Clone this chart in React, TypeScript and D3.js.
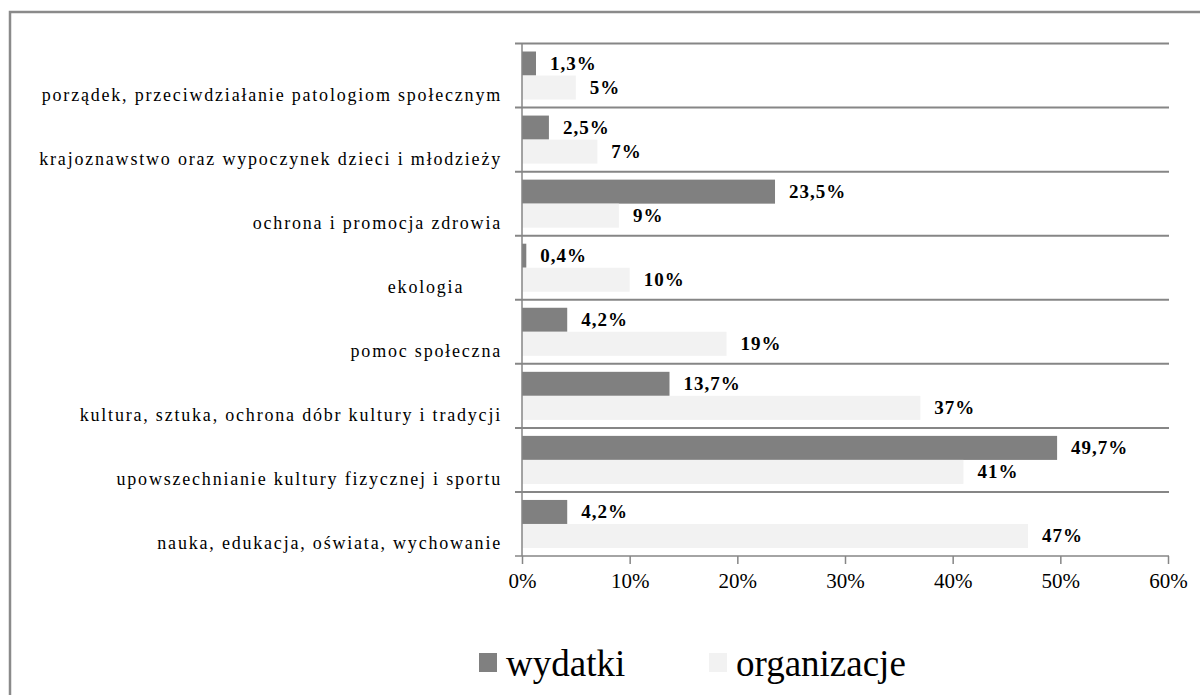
import * as d3 from 'd3';
import React, { useRef, useEffect } from 'react';

// categories, top to bottom
const categories = [
    "porządek, przeciwdziałanie patologiom społecznym",
    "krajoznawstwo oraz wypoczynek dzieci i młodzieży",
    "ochrona i promocja zdrowia",
    "ekologia\u00a0\u00a0\u00a0\u00a0\u00a0\u00a0",
    "pomoc społeczna",
    "kultura, sztuka, ochrona dóbr kultury i tradycji",
    "upowszechnianie kultury fizycznej i sportu",
    "nauka, edukacja, oświata, wychowanie",
];
const wydatki = [1.3, 2.5, 23.5, 0.4, 4.2, 13.7, 49.7, 4.2];
const organizacje = [5, 7, 9, 10, 19, 37, 41, 47];
const seriesNames = ["wydatki", "organizacje"];
const xTicks = [0, 10, 20, 30, 40, 50, 60];

const colors = { wydatki: "#808080", organizacje: "#f2f2f2" };
const FONT = "'Liberation Serif', 'Times New Roman', serif";

function App() {
    const ref = useRef(null);
    const width = 1200, height = 695;

    useEffect(() => {
        draw();
    }, []);

    const draw = () => {
        const svg = d3.select(ref.current);
        svg.selectAll("*").remove();

        var margin = { top: 43.5, right: 31, bottom: 139, left: 522 };

        // outer frame
        svg.append("rect")
            .attr("x", 10).attr("y", 12)
            .attr("width", 1210).attr("height", 720)
            .attr("fill", "white")
            .attr("stroke", "#8a8a8a")
            .attr("stroke-width", 2.5);

        var x = d3.scaleLinear().domain([0, 60]).range([margin.left, width - margin.right - 1]);
        var y = d3.scaleBand().domain(categories).range([margin.top, height - margin.bottom]).padding(0);
        var ySeries = d3.scaleBand().domain(seriesNames).range([0, y.bandwidth()])
            .paddingInner(0).paddingOuter(1 / 3);

        // gridlines between categories
        var bounds = categories.map(c => y(c));
        svg.append("g").selectAll("line")
            .data(bounds)
            .join("line")
            .attr("x1", margin.left - 7).attr("x2", x(60) + 1)
            .attr("y1", d => d).attr("y2", d => d)
            .attr("stroke", "#868686")
            .attr("stroke-width", 2);

        // bars
        var rows = categories.map((c, i) => ({ c, wydatki: wydatki[i], organizacje: organizacje[i] }));
        var fmt1 = v => d3.format(".1f")(v).replace(".", ",") + "%";
        var fmt0 = v => d3.format("d")(v) + "%";

        seriesNames.forEach(s => {
            var g = svg.append("g");
            g.selectAll("rect")
                .data(rows)
                .join("rect")
                .attr("x", x(0))
                .attr("y", d => y(d.c) + ySeries(s))
                .attr("width", d => x(d[s]) - x(0))
                .attr("height", ySeries.bandwidth())
                .attr("fill", colors[s]);

            g.selectAll("text")
                .data(rows)
                .join("text")
                .attr("x", d => x(d[s]) + 14)
                .attr("y", d => y(d.c) + ySeries(s) + ySeries.bandwidth() / 2)
                .attr("dominant-baseline", "central")
                .style("font-family", FONT)
                .style("font-size", "19px")
                .style("font-weight", "bold")
                .style("letter-spacing", "1px")
                .text(d => s === "wydatki" ? fmt1(d[s]) : fmt0(d[s]));
        });

        // vertical axis line
        svg.append("line")
            .attr("x1", x(0)).attr("x2", x(0))
            .attr("y1", margin.top).attr("y2", y.range()[1])
            .attr("stroke", "#868686").attr("stroke-width", 1.5);

        // category labels
        svg.append("g").selectAll("text")
            .data(categories)
            .join("text")
            .attr("x", 502)
            .attr("y", d => y(d) + y.bandwidth() / 2 + 25)
            .attr("text-anchor", "end")
            .style("white-space", "pre")
            .style("font-family", FONT)
            .style("font-size", "18px")
            .style("letter-spacing", "1.8px")
            .text(d => d);

        // x axis
        var xAxis = svg.append("g")
            .attr("transform", "translate(0," + y.range()[1] + ")")
            .call(d3.axisBottom(x).tickValues(xTicks).tickSize(8).tickPadding(9)
                .tickFormat(d => d + "%"));
        xAxis.select(".domain")
            .attr("d", "M" + (margin.left - 7) + ",0H" + (x(60) + 1))
            .attr("stroke", "#868686").attr("stroke-width", 1.5);
        xAxis.selectAll(".tick line").attr("stroke", "#868686").attr("stroke-width", 1.5);
        xAxis.selectAll(".tick text")
            .attr("fill", "black")
            .style("font-family", FONT)
            .style("font-size", "21px");

        // legend
        var legend = svg.append("g").attr("transform", "translate(479,676)");
        var legendX = [0, 230];
        seriesNames.forEach((s, i) => {
            legend.append("rect")
                .attr("x", legendX[i]).attr("y", -23)
                .attr("width", 18).attr("height", 19)
                .attr("fill", colors[s]);
            legend.append("text")
                .attr("x", legendX[i] + 27).attr("y", 0)
                .style("font-family", FONT)
                .style("font-size", "37px")
                .text(s);
        });
    };

    return (
        <svg ref={ref} width={width} height={height}
            style={{ position: "absolute", left: 0, top: 0, background: "white" }}>
        </svg>
    );
}

export default App;
